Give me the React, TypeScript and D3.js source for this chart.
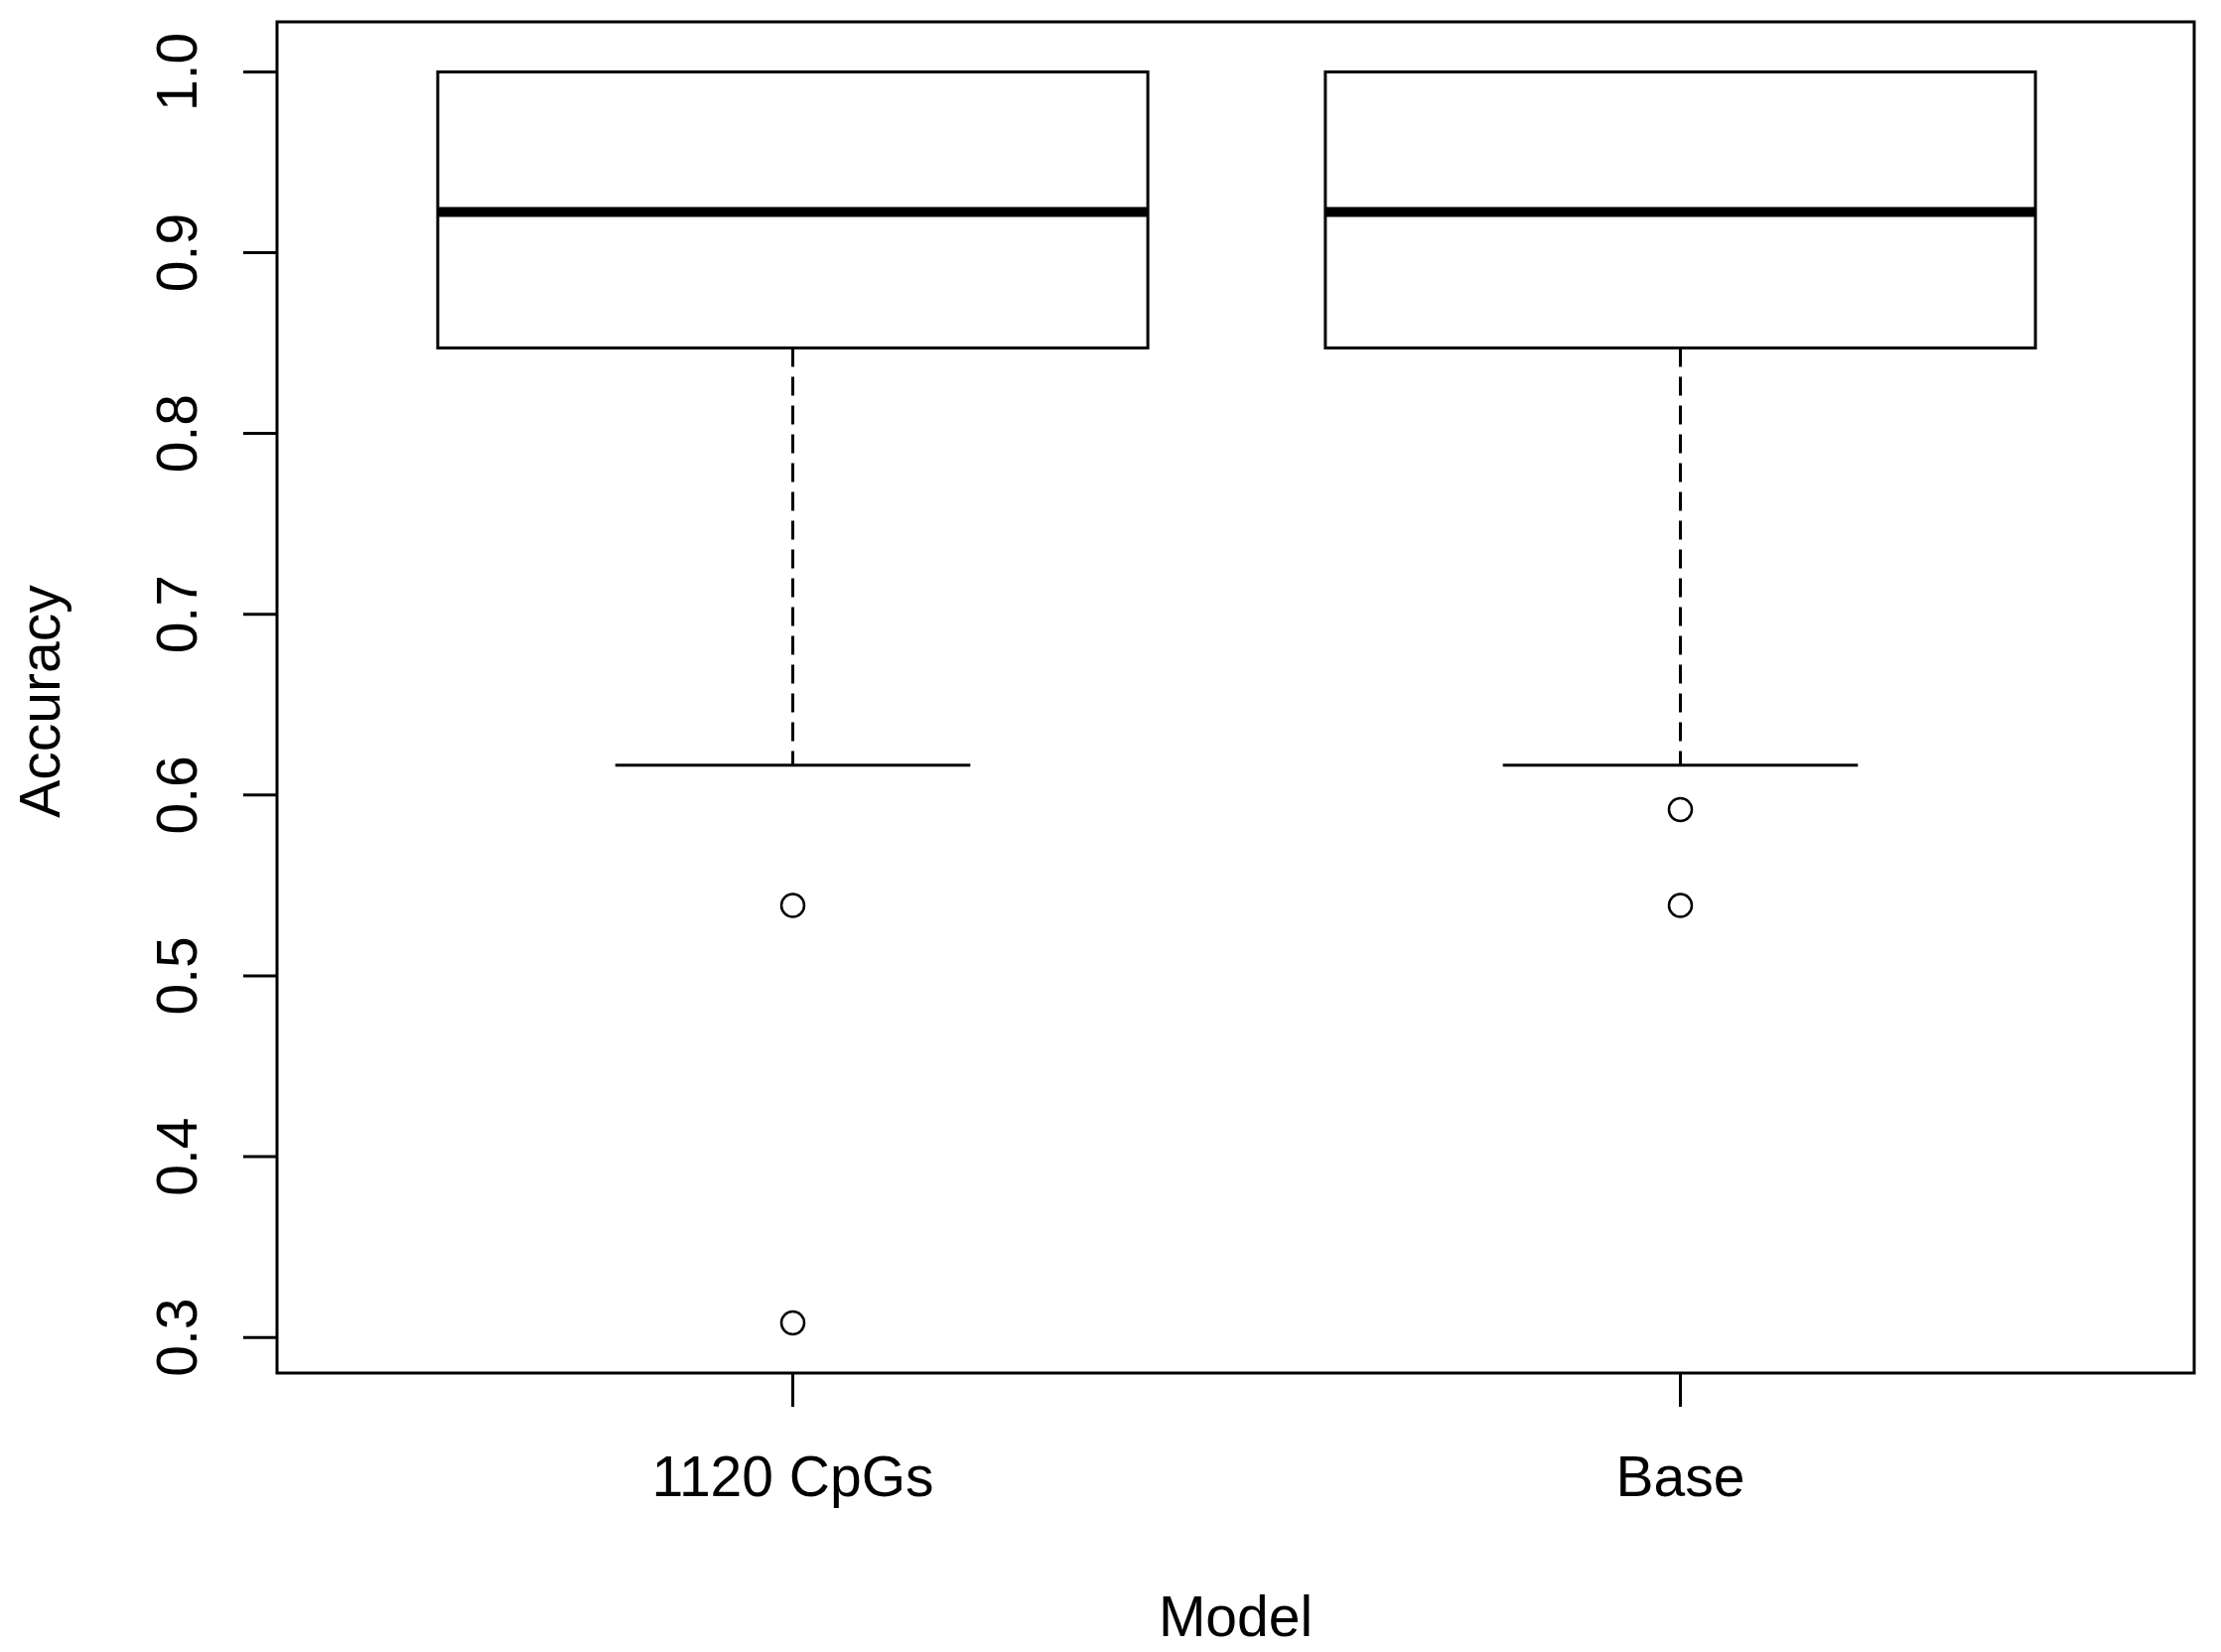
import * as d3 from "d3";

// model names on the x axis
const models = ["1120 CpGs", "Base"];
// five-number summaries
const lowerWhisker = [0.6165, 0.6165];
const q1 = [0.8473, 0.8473];
const median = [0.9225, 0.9225];
const q3 = [1.0, 1.0];
const upperWhisker = [1.0, 1.0];
// outliers per model
const outliers = [
  [0.539, 0.308],
  [0.592, 0.539],
];
const yTicks = [0.3, 0.4, 0.5, 0.6, 0.7, 0.8, 0.9, 1.0];

const W = 2237;
const H = 1664;
const plot = { left: 279, right: 2210, top: 22, bottom: 1383 };
const font = "Arial, 'Liberation Sans', sans-serif";
const fs = 57;

export default function App() {
  const allVals = [...lowerWhisker, ...upperWhisker, ...outliers.flat()];
  const [lo, hi] = d3.extent(allVals) as [number, number];
  const pad = (hi - lo) * 0.04;

  const y = d3
    .scaleLinear()
    .domain([lo - pad, hi + pad])
    .range([plot.bottom, plot.top]);
  const x = d3
    .scaleLinear()
    .domain([0.42, models.length + 0.58])
    .range([plot.left, plot.right]);

  const boxHalf = x(1.4) - x(1);
  const capHalf = boxHalf / 2;

  return (
    <svg
      width={W}
      height={H}
      style={{ position: "absolute", left: 0, top: 0, background: "#fff" }}
    >
      <rect x={0} y={0} width={W} height={H} fill="#fff" />

      {models.map((m, i) => {
        const cx = x(i + 1) + 1;
        return (
          <g key={m}>
            {/* whiskers */}
            <line
              x1={cx}
              x2={cx}
              y1={y(q1[i])}
              y2={y(lowerWhisker[i])}
              stroke="#000"
              strokeWidth={3}
              strokeDasharray="19,10"
            />
            <line
              x1={cx}
              x2={cx}
              y1={y(q3[i])}
              y2={y(upperWhisker[i])}
              stroke="#000"
              strokeWidth={3}
              strokeDasharray="19,10"
            />
            <line
              x1={cx - capHalf}
              x2={cx + capHalf}
              y1={y(lowerWhisker[i])}
              y2={y(lowerWhisker[i])}
              stroke="#000"
              strokeWidth={3}
            />
            <line
              x1={cx - capHalf}
              x2={cx + capHalf}
              y1={y(upperWhisker[i])}
              y2={y(upperWhisker[i])}
              stroke="#000"
              strokeWidth={3}
            />
            {/* box */}
            <rect
              x={cx - boxHalf}
              y={y(q3[i])}
              width={boxHalf * 2}
              height={y(q1[i]) - y(q3[i])}
              fill="#fff"
              stroke="#000"
              strokeWidth={3}
            />
            <line
              x1={cx - boxHalf}
              x2={cx + boxHalf}
              y1={y(median[i])}
              y2={y(median[i])}
              stroke="#000"
              strokeWidth={10}
            />
            {outliers[i].map((v, j) => (
              <circle
                key={j}
                cx={cx}
                cy={y(v)}
                r={11.5}
                fill="none"
                stroke="#000"
                strokeWidth={2.5}
              />
            ))}
          </g>
        );
      })}

      {/* frame */}
      <rect
        x={plot.left}
        y={plot.top}
        width={plot.right - plot.left}
        height={plot.bottom - plot.top}
        fill="none"
        stroke="#000"
        strokeWidth={3}
      />

      {/* y axis */}
      <g fontFamily={font} fontSize={fs} fill="#000">
        {yTicks.map((t) => (
          <g key={t}>
            <line
              x1={plot.left - 34}
              x2={plot.left}
              y1={y(t)}
              y2={y(t)}
              stroke="#000"
              strokeWidth={3}
            />
            <text
              transform={`translate(198,${y(t)}) rotate(-90)`}
              textAnchor="middle"
            >
              {t.toFixed(1)}
            </text>
          </g>
        ))}
        <text
          transform={`translate(60,${(plot.top + plot.bottom) / 2 + 4}) rotate(-90)`}
          textAnchor="middle"
        >
          Accuracy
        </text>
      </g>

      {/* x axis */}
      <g fontFamily={font} fontSize={fs} fill="#000">
        {models.map((m, i) => (
          <g key={m}>
            <line
              x1={x(i + 1) + 1}
              x2={x(i + 1) + 1}
              y1={plot.bottom}
              y2={plot.bottom + 34}
              stroke="#000"
              strokeWidth={3}
            />
            <text x={x(i + 1) + 1} y={1507} textAnchor="middle">
              {m}
            </text>
          </g>
        ))}
        <text x={(plot.left + plot.right) / 2} y={1648} textAnchor="middle">
          Model
        </text>
      </g>
    </svg>
  );
}
